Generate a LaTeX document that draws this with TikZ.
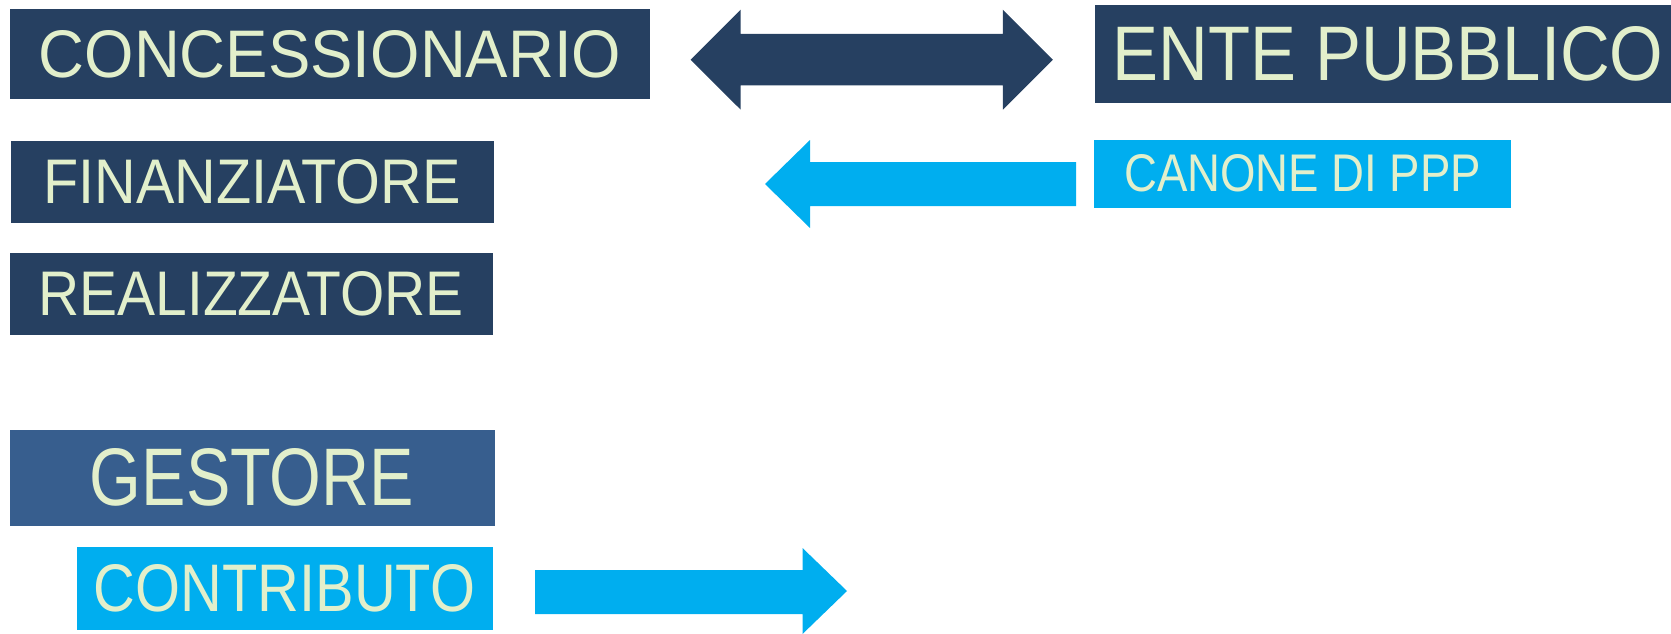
\documentclass[tikz,border=0pt]{standalone}
\usepackage{fontspec}
\setmainfont{Liberation Sans}
\usepackage{graphicx}
\definecolor{navy}{HTML}{264061}
\definecolor{midblue}{HTML}{375E8E}
\definecolor{skyblue}{HTML}{00AEEF}
\definecolor{txtcol}{HTML}{E2EFCB}
\newcommand{\fitlbl}[3]{\resizebox{#1}{#2}{#3}}
\begin{document}
\begin{tikzpicture}[x=1pt,y=-1pt,
  box/.style={rectangle, inner sep=0pt, outer sep=0pt, text=txtcol},
  navybox/.style={box, fill=navy},
  blockarrow/.style={draw=none}]
\useasboundingbox (0,0) rectangle (1671,634);
\node[navybox, minimum width=640pt, minimum height=89pt] (conc) at (330,54) {\fitlbl{582pt}{47pt}{CONCESSIONARIO}};
\node[navybox, minimum width=577pt, minimum height=97pt] (ente) at (1383,54) {\hspace{10pt}\fitlbl{551pt}{54pt}{ENTE PUBBLICO}};
\node[navybox, minimum width=483pt, minimum height=82pt] (fin) at (252,181.7) {\fitlbl{417pt}{44pt}{FINANZIATORE}};
\node[navybox, minimum width=483pt, minimum height=82pt] (real) at (251,293.6) {\fitlbl{425pt}{44pt}{REALIZZATORE}};
\node[box, fill=midblue, minimum width=485pt, minimum height=96pt] (gest) at (252,477.5) {\fitlbl{324pt}{57pt}{GESTORE}};
\node[box, fill=skyblue, minimum width=416pt, minimum height=83pt] (contr) at (284.5,588.2) {\fitlbl{381pt}{47pt}{CONTRIBUTO}};
\node[box, fill=skyblue, minimum width=417pt, minimum height=68pt] (canone) at (1302.7,173.7) {\raisebox{-2.5pt}{\fitlbl{357pt}{37pt}{CANONE DI PPP}}};
% double arrow between concessionario and ente pubblico
\fill[navy] (690.6,59.7) -- (740.7,9.7) -- (740.7,34) -- (1002.8,34) -- (1002.8,9.7)
  -- (1052.9,59.7) -- (1002.8,109.7) -- (1002.8,85.3) -- (740.7,85.3) -- (740.7,109.7) -- cycle;
% left arrow from canone
\fill[skyblue] (765,184) -- (810,140) -- (810,162) -- (1076,162) -- (1076,206)
  -- (810,206) -- (810,228) -- cycle;
% right arrow from contributo
\fill[skyblue] (535,570) -- (802.5,570) -- (802.5,548) -- (847,591) -- (802.5,634)
  -- (802.5,614) -- (535,614) -- cycle;
\end{tikzpicture}
\end{document}
